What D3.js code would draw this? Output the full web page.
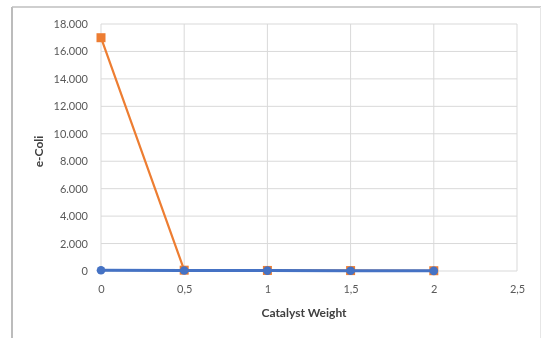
<!DOCTYPE html>
<html>
<head>
<meta charset="utf-8">
<script src="https://cdn.jsdelivr.net/npm/d3@7"></script>
<style>
  html, body { margin: 0; padding: 0; background: #fff; }
  svg { display: block; }
  text { font-family: Lato, "Open Sans", "Liberation Sans", sans-serif; }
</style>
</head>
<body>
<svg id="chart" width="542" height="338"></svg>
<script>
// Catalyst weight (x) and measured e-Coli counts for two series
const catalystWeight = [0, 0.5, 1, 1.5, 2];
const seriesOrange = [17000, 60, 40, 30, 20];
const seriesBlue = [50, 40, 30, 20, 10];
const xTicks = [0, 0.5, 1, 1.5, 2, 2.5];
const yTicks = [0, 2000, 4000, 6000, 8000, 10000, 12000, 14000, 16000, 18000];

const locale = d3.formatLocale({ decimal: ",", thousands: ".", grouping: [3], currency: ["", ""] });
const fmtY = locale.format(",.0f");
const fmtX = locale.format("~g");

const svg = d3.select("#chart");
const W = 542, H = 338;
const plot = { left: 101, right: 517, top: 24, bottom: 271 };

const x = d3.scaleLinear().domain([0, 2.5]).range([plot.left, plot.right]);
const y = d3.scaleLinear().domain([0, 18000]).range([plot.bottom, plot.top]);

// slight softening of the whole drawing
svg.append("defs").append("filter").attr("id", "soft")
  .append("feGaussianBlur").attr("stdDeviation", 0.45);

svg.append("rect").attr("x", 0).attr("y", 0).attr("width", W).attr("height", H).attr("fill", "#fff");
const root = svg.append("g").attr("filter", "url(#soft)");

// chart frame
root.append("line").attr("x1", 12).attr("x2", 12).attr("y1", 7).attr("y2", H).attr("stroke", "#a6a6a6").attr("stroke-width", 1.5);
root.append("line").attr("x1", 12).attr("x2", 541).attr("y1", 7).attr("y2", 7).attr("stroke", "#bfbfbf").attr("stroke-width", 1.5);
root.append("line").attr("x1", 540.5).attr("x2", 540.5).attr("y1", 7).attr("y2", H).attr("stroke", "#e6e6e6").attr("stroke-width", 1);

// gridlines
const grid = root.append("g");
grid.selectAll(".gy").data(yTicks).join("line")
  .attr("x1", plot.left).attr("x2", plot.right)
  .attr("y1", d => y(d)).attr("y2", d => y(d))
  .attr("stroke", "#d9d9d9").attr("stroke-width", 1);
grid.selectAll(".gx").data(xTicks).join("line")
  .attr("x1", d => x(d)).attr("x2", d => x(d))
  .attr("y1", plot.top).attr("y2", plot.bottom)
  .attr("stroke", "#d9d9d9").attr("stroke-width", 1);

// axes (labels only)
const yAxis = root.append("g").attr("transform", `translate(${plot.left},0)`)
  .call(d3.axisLeft(y).tickValues(yTicks).tickFormat(fmtY).tickSize(0).tickPadding(13));
const xAxis = root.append("g").attr("transform", `translate(0,${plot.bottom})`)
  .call(d3.axisBottom(x).tickValues(xTicks).tickFormat(fmtX).tickSize(0).tickPadding(14));
[yAxis, xAxis].forEach(a => {
  a.select(".domain").remove();
  a.selectAll("text").attr("fill", "#595959").style("font-size", "11px").style("font-family", "Lato, 'Open Sans', sans-serif");
});

// axis titles
root.append("text").attr("x", (plot.left + plot.right) / 2 - 5).attr("y", 317)
  .attr("text-anchor", "middle").attr("fill", "#404040")
  .style("font-size", "12px").style("font-weight", "bold").text("Catalyst Weight");
root.append("text").attr("transform", `translate(43,${(plot.top + plot.bottom) / 2 + 4}) rotate(-90)`)
  .attr("text-anchor", "middle").attr("fill", "#404040")
  .style("font-size", "12px").style("font-weight", "bold").text("e-Coli");

const line = d3.line().x((d, i) => x(catalystWeight[i])).y(d => y(d));

// orange series
root.append("path").datum(seriesOrange).attr("d", line)
  .attr("fill", "none").attr("stroke", "#ED7D31").attr("stroke-width", 2.2);
root.selectAll(".mo").data(seriesOrange).join("rect")
  .attr("x", (d, i) => x(catalystWeight[i]) - 4.5).attr("y", d => y(d) - 4.5)
  .attr("width", 9).attr("height", 9).attr("fill", "#ED7D31");

// blue series
root.append("path").datum(seriesBlue).attr("d", line)
  .attr("fill", "none").attr("stroke", "#4472C4").attr("stroke-width", 3);
root.selectAll(".mb").data(seriesBlue).join("circle")
  .attr("cx", (d, i) => x(catalystWeight[i])).attr("cy", d => y(d))
  .attr("r", 4.3).attr("fill", "#4472C4");
</script>
</body>
</html>
